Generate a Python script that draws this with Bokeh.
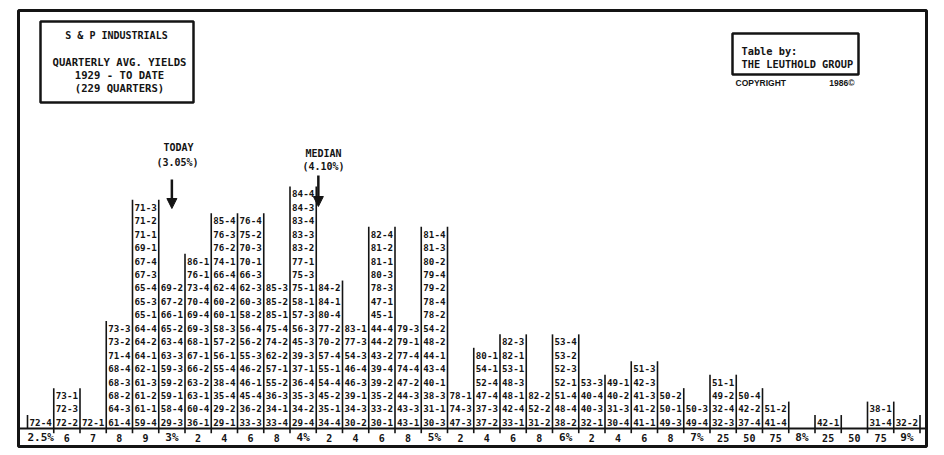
from bokeh.plotting import figure
from bokeh.models import Range1d, Arrow, NormalHead, ColumnDataSource
from bokeh.core.properties import value
from bokeh.embed import file_html
from bokeh.resources import INLINE

# ---------------- data ----------------
bin_labels = ["2.5%", "6", "7", "8", "9", "3%", "2", "4", "6", "8",
              "4%", "2", "4", "6", "8", "5%", "2", "4", "6", "8",
              "6%", "2", "4", "6", "8", "7%", "25", "50", "75",
              "8%", "25", "50", "75", "9%"]

# quarters (year-quarter) falling in each yield bin, listed top to bottom
quarters_by_bin = [
    ["72-4"],
    ["73-1", "72-3", "72-2"],
    ["72-1"],
    ["73-3", "73-2", "71-4", "68-4", "68-3", "68-2", "64-3", "61-4"],
    ["71-3", "71-2", "71-1", "69-1", "67-4", "67-3", "65-4", "65-3", "65-1",
     "64-4", "64-2", "64-1", "62-1", "61-3", "61-2", "61-1", "59-4"],
    ["69-2", "67-2", "66-1", "65-2", "63-4", "63-3", "59-3", "59-2", "59-1",
     "58-4", "29-3"],
    ["86-1", "76-1", "73-4", "70-4", "69-4", "69-3", "68-1", "67-1", "66-2",
     "63-2", "63-1", "60-4", "36-1"],
    ["85-4", "76-3", "76-2", "74-1", "66-4", "62-4", "60-2", "60-1", "58-3",
     "57-2", "56-1", "55-4", "38-4", "35-4", "29-2", "29-1"],
    ["76-4", "75-2", "70-3", "70-1", "66-3", "62-3", "60-3", "58-2", "56-4",
     "56-2", "55-3", "46-2", "46-1", "45-4", "36-2", "33-3"],
    ["85-3", "85-2", "85-1", "75-4", "74-2", "62-2", "57-1", "55-2", "36-3",
     "34-1", "33-4"],
    ["84-4", "84-3", "83-4", "83-3", "83-2", "77-1", "75-3", "75-1", "58-1",
     "57-3", "56-3", "45-3", "39-3", "37-1", "36-4", "35-3", "34-2", "29-4"],
    ["84-2", "84-1", "80-4", "77-2", "70-2", "57-4", "55-1", "54-4", "45-2",
     "35-1", "34-4"],
    ["83-1", "77-3", "54-3", "46-4", "46-3", "39-1", "34-3", "30-2"],
    ["82-4", "81-2", "81-1", "80-3", "78-3", "47-1", "45-1", "44-4", "44-2",
     "43-2", "39-4", "39-2", "35-2", "33-2", "30-1"],
    ["79-3", "79-1", "77-4", "74-4", "47-2", "44-3", "43-3", "43-1"],
    ["81-4", "81-3", "80-2", "79-4", "79-2", "78-4", "78-2", "54-2", "48-2",
     "44-1", "43-4", "40-1", "38-3", "31-1", "30-3"],
    ["78-1", "74-3", "47-3"],
    ["80-1", "54-1", "52-4", "47-4", "37-3", "37-2"],
    ["82-3", "82-1", "53-1", "48-3", "48-1", "42-4", "33-1"],
    ["82-2", "52-2", "31-2"],
    ["53-4", "53-2", "52-3", "52-1", "51-4", "48-4", "38-2"],
    ["53-3", "40-4", "40-3", "32-1"],
    ["49-1", "40-2", "31-3", "30-4"],
    ["51-3", "42-3", "41-3", "41-2", "41-1"],
    ["50-2", "50-1", "49-3"],
    ["50-3", "49-4"],
    ["51-1", "49-2", "32-4", "32-3"],
    ["50-4", "42-2", "37-4"],
    ["51-2", "41-4"],
    [],
    ["42-1"],
    [],
    ["38-1", "31-4"],
    ["32-2"],
]

title_lines = ["S & P INDUSTRIALS", "QUARTERLY AVG. YIELDS", "1929 - TO DATE", "(229 QUARTERS)"]
credit_lines = ["Table by:", "THE LEUTHOLD GROUP"]
today_text = ["TODAY", "(3.05%)"]
median_text = ["MEDIAN", "(4.10%)"]
today_col = 5.5      # position in bin units
median_col = 11.08   # position in bin units

# ---------------- layout ----------------
W, H = 944, 455
X0, DX = 27.0, 26.25     # px of first bin edge, px per bin
Y0, DY = 428.0, 13.45    # px (from top) of baseline, px per row

def px(xp):  # image pixel -> data x
    return (xp - X0) / DX

def py(yp):  # image pixel -> data y
    return (Y0 - yp) / DY

p = figure(width=W, height=H, output_backend="svg", toolbar_location=None,
           x_range=Range1d(-X0 / DX, (W - X0) / DX),
           y_range=Range1d(-(H - Y0) / DY, Y0 / DY),
           x_axis_location=None, y_axis_location=None,
           min_border=0, min_border_left=0, min_border_right=0,
           min_border_top=0, min_border_bottom=0)
p.grid.visible = False
p.outline_line_color = None
p.background_fill_color = "white"
p.border_fill_color = "white"

INK = "#141414"
MONO = value("DejaVu Sans Mono")

# entries
xs, ys, ts = [], [], []
for i, col in enumerate(quarters_by_bin):
    n = len(col)
    for j, s in enumerate(col):
        xs.append(i + 0.5)
        ys.append(n - 1 - j + 0.45)
        ts.append(s)
p.text(x=xs, y=ys, text=ts, text_font=MONO, text_font_style="bold",
       text_font_size="9.2px", text_align="center", text_baseline="middle",
       text_color=INK)

# column separators
nb = len(quarters_by_bin)
sx0, sy0, sx1, sy1 = [], [], [], []
for k in range(nb + 1):
    left = len(quarters_by_bin[k - 1]) if k > 0 else 0
    right = len(quarters_by_bin[k]) if k < nb else 0
    h = max(left, right)
    if h > 0:
        sx0.append(k); sy0.append(0); sx1.append(k); sy1.append(h)
p.segment(x0=sx0, y0=sy0, x1=sx1, y1=sy1, line_color=INK, line_width=1.6)

# ticks below baseline
tk = list(range(1, nb + 1))
p.segment(x0=tk, y0=[0] * len(tk), x1=tk, y1=[-0.35] * len(tk),
          line_color=INK, line_width=1.6)

# baseline
p.segment(x0=[px(18)], y0=[0], x1=[px(926)], y1=[0], line_color=INK, line_width=2)

# bin labels
lx = [i + 0.5 for i in range(nb)]
lsz = ["11px" if "%" in b else "10px" for b in bin_labels]
src = ColumnDataSource(dict(x=lx, y=[py(437)] * nb, t=bin_labels, s=lsz))
p.text(x="x", y="y", text="t", text_font_size="s", source=src, text_font=MONO,
       text_font_style="bold", text_align="center", text_baseline="middle",
       text_color=INK)

# outer frame
p.quad(left=[px(18)], right=[px(926)], top=[py(10)], bottom=[py(446)],
       fill_color=None, line_color=INK, line_width=3)

# title box
p.quad(left=[px(40)], right=[px(193)], top=[py(21)], bottom=[py(102)],
       fill_color=None, line_color=INK, line_width=2.5)
p.text(x=[px(116)], y=[py(35)], text=title_lines[:1],
       text_font=MONO, text_font_style="bold", text_font_size="10px",
       text_align="center", text_baseline="middle", text_color=INK)
p.text(x=[px(119)] * 3, y=[py(61), py(74), py(87)], text=title_lines[1:],
       text_font=MONO, text_font_style="bold", text_font_size="10.6px",
       text_align="center", text_baseline="middle", text_color=INK)

# credit box
p.quad(left=[px(732)], right=[px(858)], top=[py(33)], bottom=[py(74)],
       fill_color=None, line_color=INK, line_width=2.5)
p.text(x=[px(741)] * 2, y=[py(50), py(63)], text=credit_lines,
       text_font=MONO, text_font_style="bold", text_font_size="10.3px",
       text_align="left", text_baseline="middle", text_color=INK)
p.text(x=[px(735)], y=[py(82)], text=["COPYRIGHT"], text_font=value("Liberation Sans"),
       text_font_style="bold", text_font_size="8.5px", text_align="left",
       text_baseline="middle", text_color=INK)
p.text(x=[px(854)], y=[py(82)], text=["1986©"], text_font=value("Liberation Sans"),
       text_font_style="bold", text_font_size="8.5px", text_align="right",
       text_baseline="middle", text_color=INK)

# annotations
p.text(x=[px(178), px(177)], y=[py(147), py(162)], text=today_text,
       text_font=MONO, text_font_style="bold", text_font_size="10px",
       text_align="center", text_baseline="middle", text_color=INK)
p.text(x=[px(323), px(323)], y=[py(153), py(166)], text=median_text,
       text_font=MONO, text_font_style="bold", text_font_size="10px",
       text_align="center", text_baseline="middle", text_color=INK)
p.add_layout(Arrow(x_start=today_col, y_start=py(179), x_end=today_col, y_end=py(208),
                   line_color=INK, line_width=2.5,
                   end=NormalHead(size=10, fill_color=INK, line_color=INK)))
p.add_layout(Arrow(x_start=median_col, y_start=py(175), x_end=median_col, y_end=py(206),
                   line_color=INK, line_width=2.5,
                   end=NormalHead(size=10, fill_color=INK, line_color=INK)))

open("out.html", "w").write(file_html(p, INLINE))
